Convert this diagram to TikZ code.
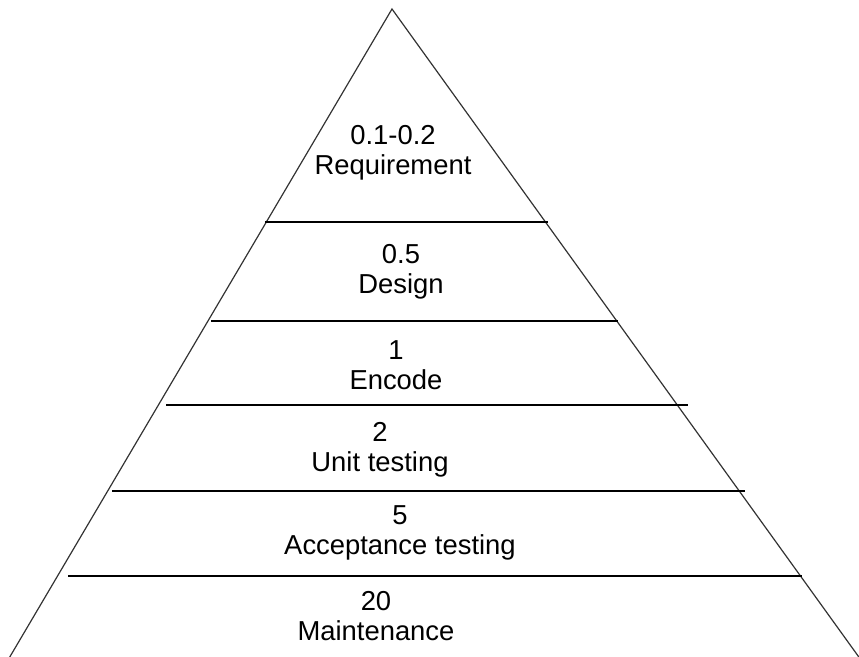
\documentclass[tikz,border=0pt]{standalone}
\usepackage{fontspec}
\setmainfont{Liberation Sans}
\usepackage{tikz}

\tikzset{
  side/.style={-,line width=0.6pt,black!80},
  cut/.style={-,line width=0.9pt,black},
  lvl/.style={align=center,inner sep=0pt,font=\fontsize{13.7}{15}\selectfont}
}

\begin{document}
\begin{tikzpicture}[x=0.5pt,y=-0.5pt]
\useasboundingbox (0,0) rectangle (859,657);

% triangle
\coordinate (top) at (392,9);
\coordinate (bl) at (8,660);
\coordinate (br) at (861,660);
\draw [side] (bl) -- (top) -- (br);

% level lines
\coordinate (l1) at (265,222);  \coordinate (r1) at (548,222);
\coordinate (l2) at (211,321);  \coordinate (r2) at (618,321);
\coordinate (l3) at (166,405);  \coordinate (r3) at (688,405);
\coordinate (l4) at (112,491);  \coordinate (r4) at (745,491);
\coordinate (l5) at (68,576);   \coordinate (r5) at (802,576);

\draw [cut] (l1) -- (r1);
\draw [cut] (l2) -- (r2);
\draw [cut] (l3) -- (r3);
\draw [cut] (l4) -- (r4);
\draw [cut] (l5) -- (r5);

% labels
\node [lvl] (req) at (393,153) {0.1-0.2\\Requirement};
\node [lvl] (des) at (401,272) {0.5\\Design};
\node [lvl] (enc) at (396,365) {1\\Encode};
\node [lvl] (unit) at (380,450) {2\\Unit testing};
\node [lvl] (acc) at (400,533) {5\\Acceptance testing};
\node [lvl] (mnt) at (376,616) {20\\Maintenance};
\end{tikzpicture}
\end{document}
